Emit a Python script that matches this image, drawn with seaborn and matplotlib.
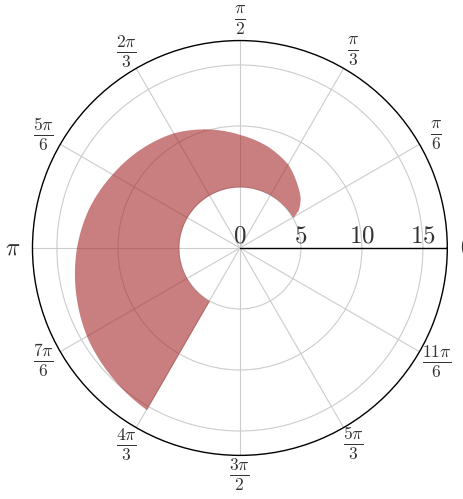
import numpy as np
import matplotlib
matplotlib.use("Agg")
import matplotlib.pyplot as plt
import seaborn as sns

# outer edge of the filled band (degrees, r)
theta_deg = [30, 33, 36, 40, 45, 50, 60, 75, 90, 105, 120, 135, 150, 165, 180, 195, 210, 225, 240]
r_outer = [5.0, 5.7, 6.05, 6.45, 6.8, 7.15, 7.9, 8.65, 9.3, 10.1, 10.9, 11.5, 12.1, 12.8, 13.4, 13.95, 14.5, 14.9, 15.3]
r_inner = 5
r_max = 17

r_ticks = [0, 5, 10, 15]
r_labels = ["$0$", "$5$", "$10$", "$15$"]
angle_ticks = [0, 30, 60, 90, 120, 150, 180, 210, 240, 270, 300, 330]
angle_labels = ["$0$", r"$\frac{\pi}{6}$", r"$\frac{\pi}{3}$", r"$\frac{\pi}{2}$",
                r"$\frac{2\pi}{3}$", r"$\frac{5\pi}{6}$", r"$\pi$", r"$\frac{7\pi}{6}$",
                r"$\frac{4\pi}{3}$", r"$\frac{3\pi}{2}$", r"$\frac{5\pi}{3}$", r"$\frac{11\pi}{6}$"]

sns.set_style("white")
plt.rcParams["mathtext.fontset"] = "cm"

fig = plt.figure(figsize=(4.64, 4.99), dpi=100)
ax = fig.add_axes([0.070, 0.0872, 0.894, 0.8317], projection="polar")

# band between the circle r=5 and the outer curve
band = ax.fill_between(np.deg2rad(theta_deg), r_inner, r_outer, color="#a52a2a", alpha=0.6, lw=0, zorder=1)
# follow arcs in polar space instead of straight chords
for p in band.get_paths():
    p._interpolation_steps = 30

ax.set_rlim(0, r_max)
ax.set_yticks(r_ticks)
ax.set_yticklabels(r_labels, fontsize=18, color="#333333")
ax.set_rlabel_position(0)
for t in ax.get_yticklabels():
    t.set_ha("center")

ax.set_xticks(np.deg2rad(angle_ticks))
lbls = ax.set_xticklabels(angle_labels, fontsize=18, color="#333333")
for t in lbls:
    if "frac" not in t.get_text():
        t.set_fontsize(17)

ax.grid(True, color="#cccccc", lw=0.8)
ax.tick_params(axis="x", direction="out", length=8, width=0.8, color="#cccccc", pad=-1)
ax.tick_params(axis="y", length=0, pad=0)
ax.spines["polar"].set_color("black")
ax.spines["polar"].set_linewidth(1)
ax.axvline(0, color="black", lw=1, zorder=3)

fig.savefig("out.png", dpi=100)
